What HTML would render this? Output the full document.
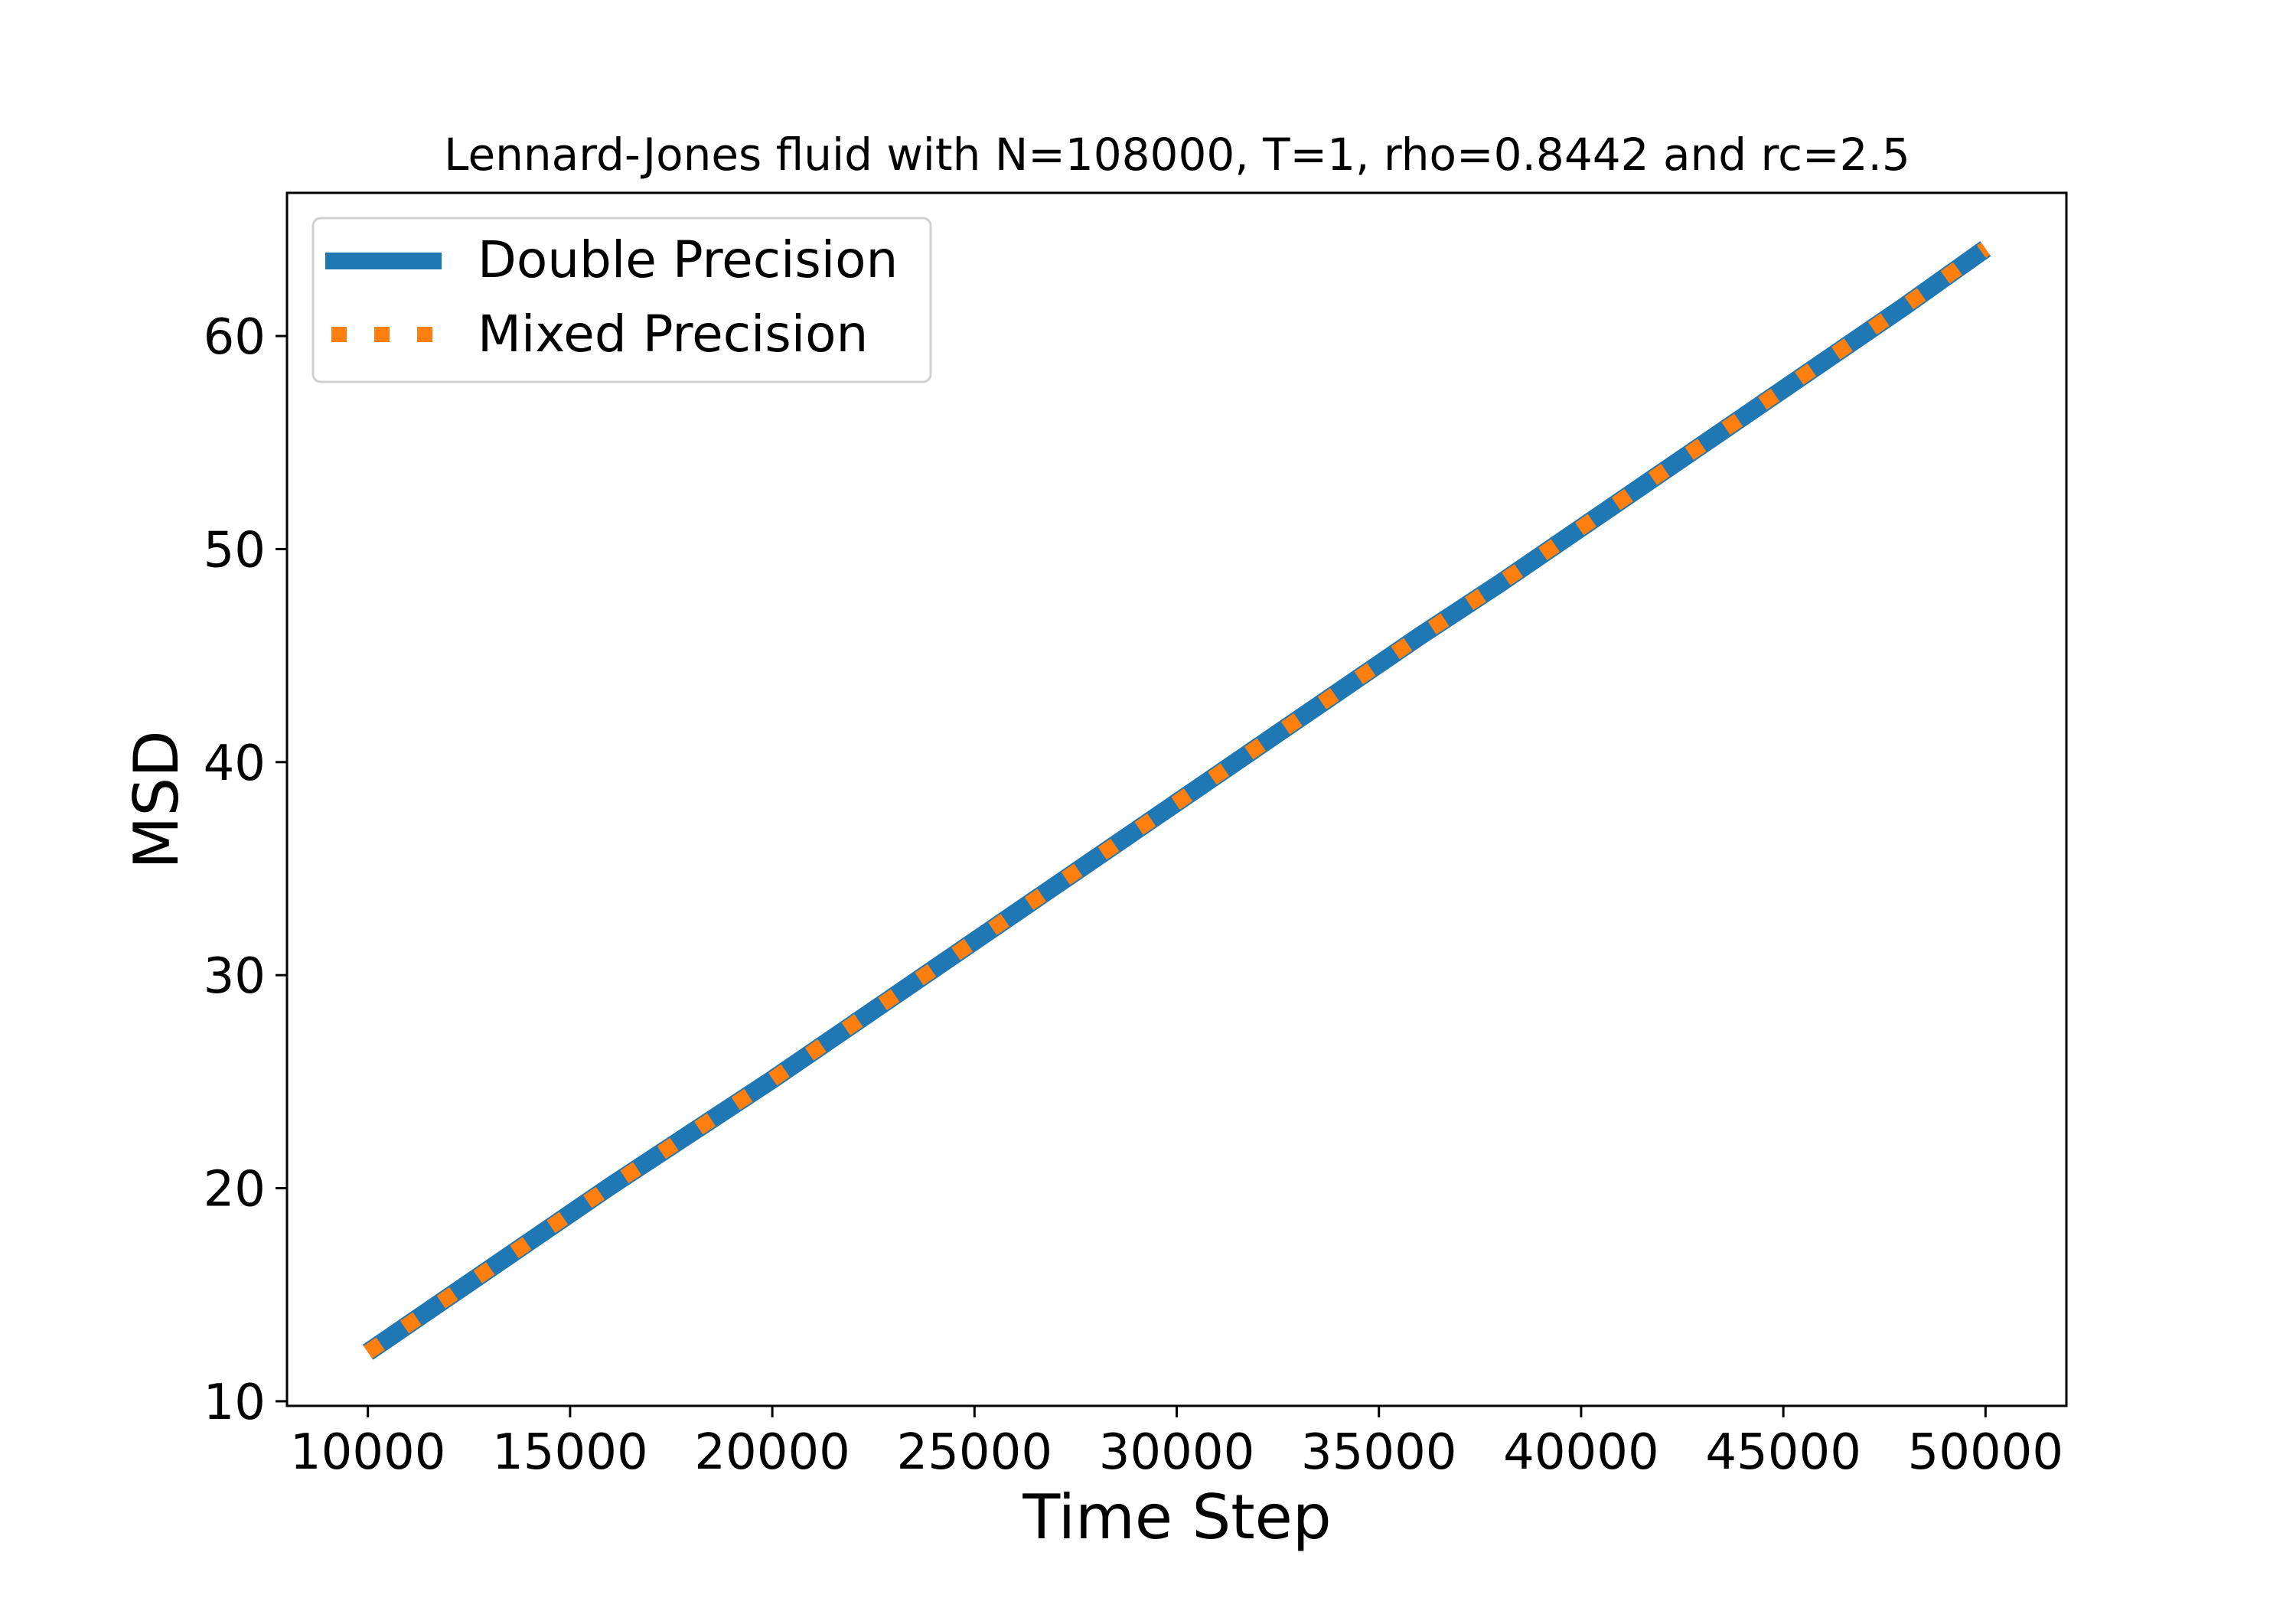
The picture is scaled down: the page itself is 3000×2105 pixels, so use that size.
<!DOCTYPE html>
<html><head><meta charset="utf-8"><style>
html,body{margin:0;padding:0;background:#fff;}
svg text{font-family:"DejaVu Sans","Liberation Sans",sans-serif;fill:#000;}
</style></head><body>
<svg id="chart" width="3000" height="2100" viewBox="0 0 3000 2100" xmlns="http://www.w3.org/2000/svg">
<rect width="3000" height="2100" fill="#fff"/>
<text x="1538" y="222" font-size="58" text-anchor="middle">Lennard-Jones fluid with N=108000, T=1, rho=0.8442 and rc=2.5</text>
<g id="plot"></g>
<rect x="375" y="252" width="2325" height="1585" fill="none" stroke="#000" stroke-width="3"/>
<g id="xticks"></g>
<g id="yticks"></g>
<text x="1538" y="2010" font-size="80" text-anchor="middle">Time Step</text>
<text transform="translate(232,1045) rotate(-90)" font-size="80" text-anchor="middle">MSD</text>
<g>
<rect x="409" y="285" width="807" height="214" rx="10" fill="#fff" fill-opacity="0.8" stroke="#d0d0d0" stroke-width="3"/>
<line x1="425" y1="341" x2="577" y2="341" stroke="#1f77b4" stroke-width="22"/>
<text x="624" y="362" font-size="66">Double Precision</text>
<line x1="433" y1="437" x2="577" y2="437" stroke="#ff7f0e" stroke-width="20" stroke-dasharray="20 36"/>
<text x="624" y="459" font-size="66">Mixed Precision</text>
</g>
</svg>
<script>
const timeSteps = [10000,12000,14000,16000,18000,20000,22000,24000,26000,28000,30000,32000,34000,36000,38000,40000,42000,44000,46000,48000,50000];
const msdDouble = [12.3,14.9,17.5,20.1,22.6,25.1,27.7,30.3,32.9,35.5,38.1,40.7,43.3,45.9,48.4,51.0,53.6,56.2,58.8,61.4,64.1];
const msdMixed  = [12.3,14.9,17.5,20.1,22.6,25.1,27.7,30.3,32.9,35.5,38.1,40.7,43.3,45.9,48.4,51.0,53.6,56.2,58.8,61.4,64.1];
const xTickValues = [10000,15000,20000,25000,30000,35000,40000,45000,50000];
const yTickValues = [10,20,30,40,50,60];

const L=375,R=2700,T=252,B=1837;
const xMin=8000,xMax=52000,yMin=9.7822,yMax=66.72;
function sx(v){return L+(v-xMin)/(xMax-xMin)*(R-L);}
function sy(v){return B-(v-yMin)/(yMax-yMin)*(B-T);}
const NS="http://www.w3.org/2000/svg";
function mk(tag,attrs,parent){const e=document.createElementNS(NS,tag);for(const k in attrs)e.setAttribute(k,attrs[k]);parent.appendChild(e);return e;}

const plot=document.getElementById('plot');
const dPts=timeSteps.map((t,i)=>sx(t)+','+sy(msdDouble[i])).join(' ');
const dl=mk('polyline',{points:dPts,fill:'none',stroke:'#1f77b4','stroke-width':24},plot);


const mPts=timeSteps.map((t,i)=>sx(t)+','+sy(msdMixed[i])).join(' ');
const ml=mk('polyline',{points:mPts,fill:'none',stroke:'#ff7f0e','stroke-width':20,'stroke-dasharray':'20 38'},plot);



const xg=document.getElementById('xticks');
xTickValues.forEach(v=>{
  const x=sx(v);
  const tk=mk('line',{x1:x,y1:B,x2:x,y2:B+15,stroke:'#000','stroke-width':3},xg);
  
  
  const tx=mk('text',{x:x,y:B+82,'font-size':64,'text-anchor':'middle'},xg);
  tx.textContent=String(v);
  
  
});
const yg=document.getElementById('yticks');
yTickValues.forEach(v=>{
  const y=sy(v);
  const tk=mk('line',{x1:L-15,y1:y,x2:L,y2:y,stroke:'#000','stroke-width':3},yg);
  
  
  const tx=mk('text',{x:L-28,y:y+23,'font-size':64,'text-anchor':'end'},yg);
  tx.textContent=String(v);
  
  
});
</script>
</body></html>
